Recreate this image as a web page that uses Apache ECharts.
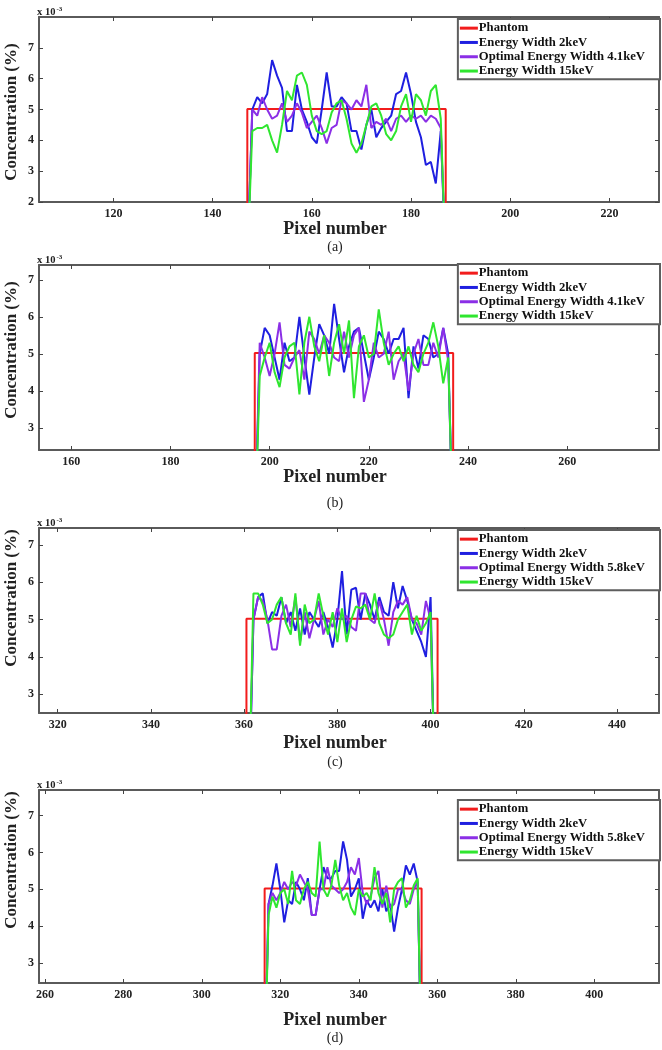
<!DOCTYPE html>
<html>
<head>
<meta charset="utf-8">
<script src="https://cdn.jsdelivr.net/npm/echarts@6/dist/echarts.min.js"></script>
<style>
  html, body { margin: 0; padding: 0; background: #fff; }
  #chart { width: 662px; height: 1050px; }
</style>
</head>
<body>
<div id="chart"></div>
<script>
// concentration values are in units of 1e-3 %
const seriesNames = ['Phantom', 'Energy Width 2keV', 'Optimal Energy Width 4.1keV', 'Energy Width 15keV'];
const seriesNamesCD = ['Phantom', 'Energy Width 2keV', 'Optimal Energy Width 5.8keV', 'Energy Width 15keV'];
const panelLetters = ['(a)', '(b)', '(c)', '(d)'];

// axis ranges and tick labels
const xRanges = [[105, 230], [153.5, 278.5], [316, 449], [258.5, 416.5]];
const xTicks = [
  [120, 140, 160, 180, 200, 220],
  [160, 180, 200, 220, 240, 260],
  [320, 340, 360, 380, 400, 420, 440],
  [260, 280, 300, 320, 340, 360, 380, 400]
];
const yRanges = [[2, 8], [2.4, 7.4], [2.5, 7.45], [2.45, 7.7]];
const yTicks = [[2, 3, 4, 5, 6, 7], [3, 4, 5, 6, 7], [3, 4, 5, 6, 7], [3, 4, 5, 6, 7]];

// phantom: flat profile between two edges
const phantomEdges = [[147, 187], [197, 237], [360.5, 401.5], [316, 356]];
const phantomLevel = 5.02;

// first pixel of each reconstructed profile
const startPixel = [147, 197, 361, 316];

// (a)
const blueA = [0, 5.0, 5.4, 5.2, 5.5, 6.6, 6.1, 5.7, 4.3, 4.3, 5.8, 5.0, 4.6, 4.1, 3.9, 5.0, 6.2, 5.1, 5.1, 5.4, 5.2,
  4.3, 4.3, 3.7, 4.5, 5.0, 4.1, 4.4, 4.6, 4.8, 5.5, 5.6, 6.2, 5.5, 4.6, 4.1, 3.2, 3.3, 2.6, 4.3, 0];
const purpleA = [0, 5.0, 4.8, 5.4, 5.0, 4.7, 4.8, 5.2, 4.6, 4.8, 5.2, 4.9, 4.4, 4.6, 4.8, 4.4, 3.9, 4.4, 4.5, 5.3, 5.2,
  5.0, 5.3, 5.1, 5.8, 4.4, 4.6, 4.5, 4.7, 4.3, 4.7, 4.8, 4.6, 4.8, 4.7, 4.8, 4.6, 4.8, 4.7, 4.4, 0];
const greenA = [0, 4.3, 4.4, 4.4, 4.5, 4.0, 3.6, 4.5, 5.6, 5.3, 6.1, 6.2, 5.8, 4.8, 4.3, 4.2, 4.3, 4.9, 5.2, 5.3, 4.7,
  3.9, 3.6, 3.9, 4.5, 5.1, 5.2, 4.8, 4.2, 4.0, 4.3, 5.1, 5.5, 4.6, 5.5, 5.3, 4.8, 5.6, 5.8, 4.7, 0];

// (b)
const blueB = [0, 5.0, 5.7, 5.5, 4.9, 4.3, 5.3, 4.8, 4.9, 6.0, 4.9, 3.9, 4.9, 5.8, 5.5, 5.0, 6.35, 5.4, 4.5, 5.2, 5.6,
  5.7, 5.0, 4.3, 4.9, 5.6, 5.4, 5.0, 5.4, 5.4, 5.7, 3.8, 5.2, 4.6, 5.5, 5.4, 4.9, 5.0, 5.7, 5.0, 0];
const purpleB = [0, 5.3, 4.9, 4.4, 5.0, 5.85, 4.7, 4.6, 4.9, 5.1, 4.3, 5.6, 5.4, 5.0, 5.5, 5.3, 4.9, 4.8, 5.6, 4.9, 5.5,
  5.7, 3.7, 4.3, 5.3, 4.9, 5.0, 5.6, 4.3, 4.8, 5.0, 4.0, 5.0, 5.4, 4.7, 4.7, 5.3, 4.9, 5.7, 4.8, 0];
const greenB = [0, 4.4, 4.9, 5.3, 4.5, 4.1, 4.9, 5.2, 5.3, 3.9, 5.3, 6.0, 5.2, 4.8, 5.5, 4.4, 5.3, 5.8, 5.0, 5.9, 3.8,
  5.2, 5.5, 4.9, 5.0, 6.2, 5.3, 4.7, 5.0, 5.2, 4.8, 5.2, 4.7, 4.5, 5.0, 5.3, 5.85, 5.2, 4.2, 4.9, 0];

// (c)
const blueC = [0, 5.0, 5.6, 5.7, 4.9, 5.2, 5.1, 5.6, 4.9, 5.2, 4.7, 5.3, 4.6, 5.2, 5.0, 4.8, 5.2, 4.8, 4.25, 5.0, 6.3,
  4.6, 5.8, 5.85, 5.0, 5.7, 5.4, 5.0, 5.6, 5.2, 5.1, 6.0, 5.3, 5.9, 5.5, 5.0, 4.7, 4.4, 4.0, 5.6, 0];
const purpleC = [0, 5.0, 5.6, 5.5, 5.0, 4.2, 4.2, 5.1, 5.4, 4.8, 5.6, 4.4, 5.2, 4.5, 5.0, 5.5, 4.6, 5.0, 4.8, 5.3, 5.0,
  5.1, 4.8, 4.7, 5.7, 5.7, 5.0, 4.9, 5.5, 5.0, 4.3, 5.2, 5.5, 5.4, 5.6, 5.0, 4.9, 4.6, 5.5, 5.0, 0];
const greenC = [0, 5.7, 5.7, 5.4, 4.9, 5.0, 5.4, 5.6, 4.9, 4.6, 5.7, 4.3, 5.4, 4.9, 5.0, 5.7, 5.1, 4.6, 5.2, 4.4, 5.3,
  4.4, 5.0, 5.35, 5.3, 5.4, 5.0, 5.7, 4.9, 4.6, 4.5, 4.6, 5.0, 5.2, 5.4, 4.6, 5.1, 4.7, 4.9, 5.2, 0];

// (d)
const blueD = [0, 4.6, 5.1, 5.7, 5.0, 4.1, 4.7, 4.6, 5.2, 5.0, 4.7, 5.3, 4.3, 4.3, 5.0, 5.6, 5.3, 5.3, 5.5, 5.5, 6.3,
  5.8, 4.8, 5.0, 5.3, 4.2, 4.7, 4.5, 4.7, 4.4, 5.0, 4.4, 4.6, 3.85, 4.5, 5.0, 5.65, 5.4, 5.7, 5.2, 0];
const purpleD = [0, 4.6, 4.9, 4.7, 4.9, 5.2, 5.0, 5.2, 5.1, 5.4, 5.2, 5.0, 4.3, 4.3, 5.0, 5.0, 5.6, 5.1, 5.0, 4.9, 5.0,
  5.2, 5.6, 5.4, 5.85, 4.9, 4.6, 4.8, 5.3, 5.5, 4.5, 5.1, 4.5, 4.6, 5.0, 5.0, 4.7, 4.6, 5.0, 5.2, 0];
const greenD = [0, 4.3, 4.8, 4.5, 4.9, 5.0, 4.6, 5.5, 4.7, 4.6, 5.0, 5.2, 4.9, 4.8, 6.3, 5.0, 4.8, 5.1, 5.8, 5.1, 4.7,
  4.9, 4.5, 4.3, 5.0, 4.8, 4.9, 4.7, 5.6, 4.9, 4.6, 4.9, 4.1, 5.0, 5.2, 5.3, 4.5, 4.7, 5.1, 5.3, 0];

const profiles = [
  [blueA, purpleA, greenA],
  [blueB, purpleB, greenB],
  [blueC, purpleC, greenC],
  [blueD, purpleD, greenD]
];

const colors = ['#f21c1c', '#1f1fe0', '#8b2fe6', '#2fe62f'];
const serif = '"Liberation Serif", "Times New Roman", serif';

// panel boxes (px)
const boxTops = [17, 265, 528, 790];
const boxHeights = [185, 185, 185, 193];
const legendTops = [19, 264, 530, 800];
const yTitleCenters = [112, 350, 598, 860];
const xTitleGaps = [27, 27, 30, 37];
const letterGaps = [45, 53, 49, 55];

const grids = [], xAxes = [], yAxes = [], series = [], legends = [], graphics = [];

for (let p = 0; p < 4; p++) {
  grids.push({ left: 39, width: 620, top: boxTops[p], height: boxHeights[p], outerBoundsMode: 'none', containLabel: false });

  const tickStyle = { show: true, inside: true, length: 4, lineStyle: { color: '#444', width: 1 } };
  const lineStyle = { show: true, onZero: false, lineStyle: { color: '#5a5a5a', width: 2 } };

  // bottom and top x axes
  xAxes.push({
    type: 'value', gridIndex: p, min: xRanges[p][0], max: xRanges[p][1], position: 'bottom',
    axisLine: lineStyle, splitLine: { show: false },
    axisTick: Object.assign({ customValues: xTicks[p] }, tickStyle),
    axisLabel: { customValues: xTicks[p], margin: 6, fontFamily: serif, fontWeight: 'bold', fontSize: 12, color: '#222' }
  });
  xAxes.push({
    type: 'value', gridIndex: p, min: xRanges[p][0], max: xRanges[p][1], position: 'top',
    axisLine: lineStyle, splitLine: { show: false },
    axisTick: Object.assign({ customValues: xTicks[p] }, tickStyle),
    axisLabel: { show: false }
  });
  // left and right y axes
  yAxes.push({
    type: 'value', gridIndex: p, min: yRanges[p][0], max: yRanges[p][1], position: 'left',
    axisLine: lineStyle, splitLine: { show: false },
    axisTick: Object.assign({ customValues: yTicks[p] }, tickStyle),
    axisLabel: { customValues: yTicks[p], margin: 5, fontFamily: serif, fontWeight: 'bold', fontSize: 12, color: '#222' }
  });
  yAxes.push({
    type: 'value', gridIndex: p, min: yRanges[p][0], max: yRanges[p][1], position: 'right',
    axisLine: lineStyle, splitLine: { show: false },
    axisTick: Object.assign({ customValues: yTicks[p] }, tickStyle),
    axisLabel: { show: false }
  });

  const names = p < 2 ? seriesNames : seriesNamesCD;

  // phantom
  const e = phantomEdges[p];
  series.push({
    name: names[0], type: 'line', xAxisIndex: p * 2, yAxisIndex: p * 2,
    data: [[e[0], 0], [e[0], phantomLevel], [e[1], phantomLevel], [e[1], 0]],
    showSymbol: false, lineStyle: { color: colors[0], width: 2 }, itemStyle: { color: colors[0] }, z: 2
  });
  // reconstructions
  profiles[p].forEach((vals, k) => {
    series.push({
      name: names[k + 1], type: 'line', xAxisIndex: p * 2, yAxisIndex: p * 2,
      data: vals.map((v, i) => [startPixel[p] + i, v]),
      showSymbol: false, lineStyle: { color: colors[k + 1], width: 2 }, itemStyle: { color: colors[k + 1] }, z: 3 + k
    });
  });

  legends.push({
    data: names, orient: 'vertical', right: 2, top: legendTops[p],
    icon: 'rect', itemWidth: 18, itemHeight: 3, itemGap: 0,
    padding: [2, 15, 1, 2], borderColor: '#5e5e5e', borderWidth: 2, backgroundColor: '#fff',
    textStyle: { fontFamily: serif, fontWeight: 'bold', fontSize: 12.7, lineHeight: 14.3, color: '#111', padding: [0, 0, 0, -4] }
  });

  const top = boxTops[p], bottom = boxTops[p] + boxHeights[p];
  graphics.push({
    type: 'text', left: 37, top: top - 11,
    style: {
      text: '{a|x 10}{b|-3}',
      rich: {
        a: { fontFamily: serif, fontWeight: 'bold', fontSize: 10.5, fill: '#222' },
        b: { fontFamily: serif, fontWeight: 'bold', fontSize: 7, fill: '#222', verticalAlign: 'top', padding: [0, 0, 6, 1] }
      }
    }
  });
  graphics.push({
    type: 'text', x: 12, y: yTitleCenters[p], rotation: Math.PI / 2,
    style: { text: 'Concentration (%)', font: 'bold 17px ' + serif, fill: '#222', textAlign: 'center', textVerticalAlign: 'middle' }
  });
  graphics.push({
    type: 'text', x: 335, y: bottom + xTitleGaps[p],
    style: { text: 'Pixel number', font: 'bold 18px ' + serif, fill: '#222', textAlign: 'center', textVerticalAlign: 'middle' }
  });
  graphics.push({
    type: 'text', x: 335, y: bottom + letterGaps[p],
    style: { text: panelLetters[p], font: '14px ' + serif, fill: '#222', textAlign: 'center', textVerticalAlign: 'middle' }
  });
}

const chart = echarts.init(document.getElementById('chart'), null, { renderer: 'canvas' });
chart.setOption({
  animation: false,
  backgroundColor: '#fff',
  grid: grids,
  xAxis: xAxes,
  yAxis: yAxes,
  legend: legends,
  series: series,
  graphic: graphics
});
</script>
</body>
</html>
